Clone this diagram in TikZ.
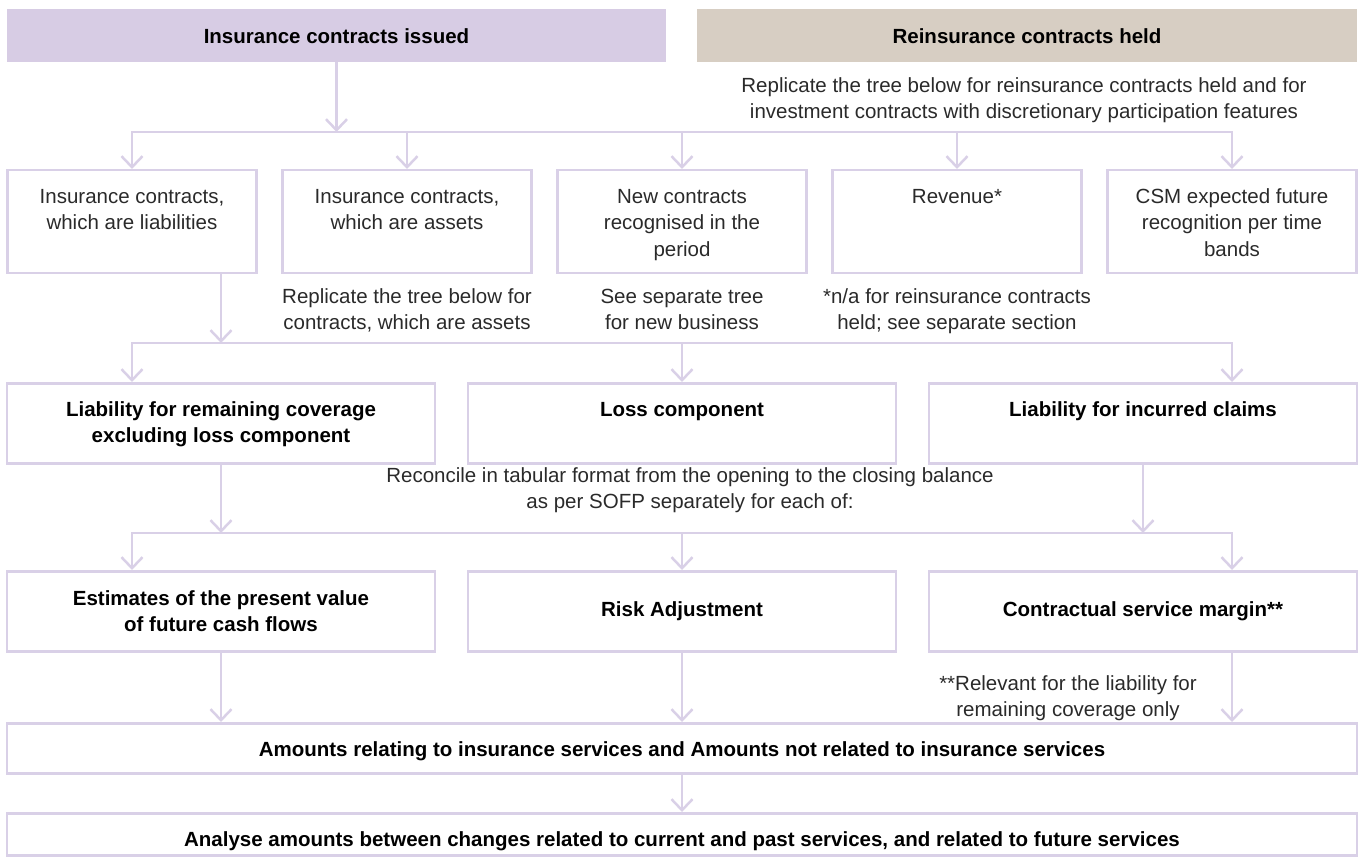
\documentclass[tikz,border=0pt]{standalone}
\usepackage{fontspec}
\setmainfont{Liberation Sans}
\usetikzlibrary{arrows.meta}
\definecolor{lncol}{HTML}{D9D0E7}
\definecolor{hpurple}{HTML}{D7CCE4}
\definecolor{hbeige}{HTML}{D7CEC3}
\definecolor{txcol}{HTML}{2A2A2A}
% fixed-height box content, text aligned to the top
\newcommand\tb[3]{\parbox[c][#1][t]{#2}{\centering\rule{0pt}{33pt}#3}}
% free note text, first baseline 20pt below the top
\newcommand\nt[2]{\parbox[t]{#1}{\centering\rule{0pt}{20pt}#2}}
\begin{document}
\begin{tikzpicture}[x=1pt,y=-1pt,
  every node/.style={font=\fontsize{20.5}{26.5}\selectfont, text=txcol},
  box/.style={draw=lncol, line width=2.5pt, inner sep=0pt, anchor=north},
  bld/.style={font=\fontsize{20.5}{26.5}\selectfont\bfseries, text=black},
  hdr/.style={inner sep=0pt, anchor=north, minimum height=53pt, bld},
  conn/.style={draw=lncol, line width=2.5pt, line join=miter},
  arr/.style={conn, -{Straight Barb[length=11pt,width=21pt]}},
  arrs/.style={conn, {Straight Barb[length=11pt,width=21pt]}-{Straight Barb[length=11pt,width=21pt]}},
  note/.style={anchor=north, inner sep=0pt}
]
\useasboundingbox (0,0) rectangle (1362,858);

% headers
\node[hdr, fill=hpurple, minimum width=659pt] (h1) at (336.5,9) {Insurance contracts issued};
\node[hdr, fill=hbeige, minimum width=660pt] (h2) at (1027,9) {Reinsurance contracts held};
\node[note] (n1) at (1024,72) {\nt{700pt}{Replicate the tree below for reinsurance contracts held and for\\investment contracts with discretionary participation features}};

% row 2
\node[box, minimum width=249pt] (r2a) at (132,169) {\tb{103pt}{235pt}{Insurance contracts,\\which are liabilities}};
\node[box, minimum width=249pt] (r2b) at (407,169) {\tb{103pt}{235pt}{Insurance contracts,\\which are assets}};
\node[box, minimum width=249pt] (r2c) at (682,169) {\tb{103pt}{235pt}{New contracts\\recognised in the\\period}};
\node[box, minimum width=249pt] (r2d) at (957,169) {\tb{103pt}{235pt}{Revenue*}};
\node[box, minimum width=249pt] (r2e) at (1232,169) {\tb{103pt}{235pt}{CSM expected future\\recognition per time\\bands}};

\node[note] (n2) at (407,283) {\nt{300pt}{Replicate the tree below for\\contracts, which are assets}};
\node[note] (n3) at (682,283) {\nt{250pt}{See separate tree\\for new business}};
\node[note] (n4) at (957,283) {\nt{300pt}{*n/a for reinsurance contracts\\held; see separate section}};

% row 3
\node[box, bld, minimum width=428pt] (r3a) at (221,382) {\tb{80pt}{410pt}{Liability for remaining coverage\\excluding loss component}};
\node[box, bld, minimum width=428pt] (r3b) at (682,382) {\tb{80pt}{410pt}{Loss component}};
\node[box, bld, minimum width=428pt] (r3c) at (1143,382) {\tb{80pt}{410pt}{Liability for incurred claims}};

\node[note] (n5) at (690,462) {\nt{700pt}{Reconcile in tabular format from the opening to the closing balance\\as per SOFP separately for each of:}};

% row 4
\node[box, bld, align=center, minimum width=428pt, minimum height=80pt] (r4a) at (221,570) {Estimates of the present value\\of future cash flows};
\node[box, bld, align=center, minimum width=428pt, minimum height=80pt] (r4b) at (682,570) {Risk Adjustment};
\node[box, bld, align=center, minimum width=428pt, minimum height=80pt] (r4c) at (1143,570) {Contractual service margin**};

\node[note] (n6) at (1068,670) {\nt{400pt}{**Relevant for the liability for\\remaining coverage only}};

% bottom rows
\node[box, bld, minimum width=1350pt] (am) at (682,722) {\tb{50pt}{1300pt}{Amounts relating to insurance services and Amounts not related to insurance services}};
\node[box, bld, minimum width=1350pt] (an) at (682,812) {\tb{42pt}{1300pt}{Analyse amounts between changes related to current and past services, and related to future services}};

% branch levels
\coordinate (br1) at (0,132);
\coordinate (br2) at (0,343);
\coordinate (br3) at (0,533);

% level 1
\draw[arr] (h1.south) -- (h1.south |- br1);
\draw[arrs] (r2a.north) -- (r2a.north |- br1) -- (r2e.north |- br1) -- (r2e.north);
\foreach \n in {r2b,r2c,r2d} \draw[arr] (\n.north |- br1) -- (\n.north);

% level 2
\draw[arr] (r3a.north |- r2a.south) -- (r3a.north |- br2);
\draw[arrs] (r2a.south |- r3a.north) -- (r2a.south |- br2) -- (r2e.south |- br2) -- (r2e.south |- r3c.north);
\draw[arr] (r3b.north |- br2) -- (r3b.north);

% level 3
\draw[arr] (r3a.south) -- (r3a.south |- br3);
\draw[arr] (r3c.south) -- (r3c.south |- br3);
\draw[arrs] (r2a.south |- r4a.north) -- (r2a.south |- br3) -- (r2e.south |- br3) -- (r2e.south |- r4c.north);
\draw[arr] (r4b.north |- br3) -- (r4b.north);

% level 4
\draw[arr] (r4a.south) -- (r4a.south |- am.north);
\draw[arr] (r4b.south) -- (am.north);
\draw[arr] (r2e.south |- r4c.south) -- (r2e.south |- am.north);
\draw[arr] (am.south) -- (an.north);
\end{tikzpicture}
\end{document}
